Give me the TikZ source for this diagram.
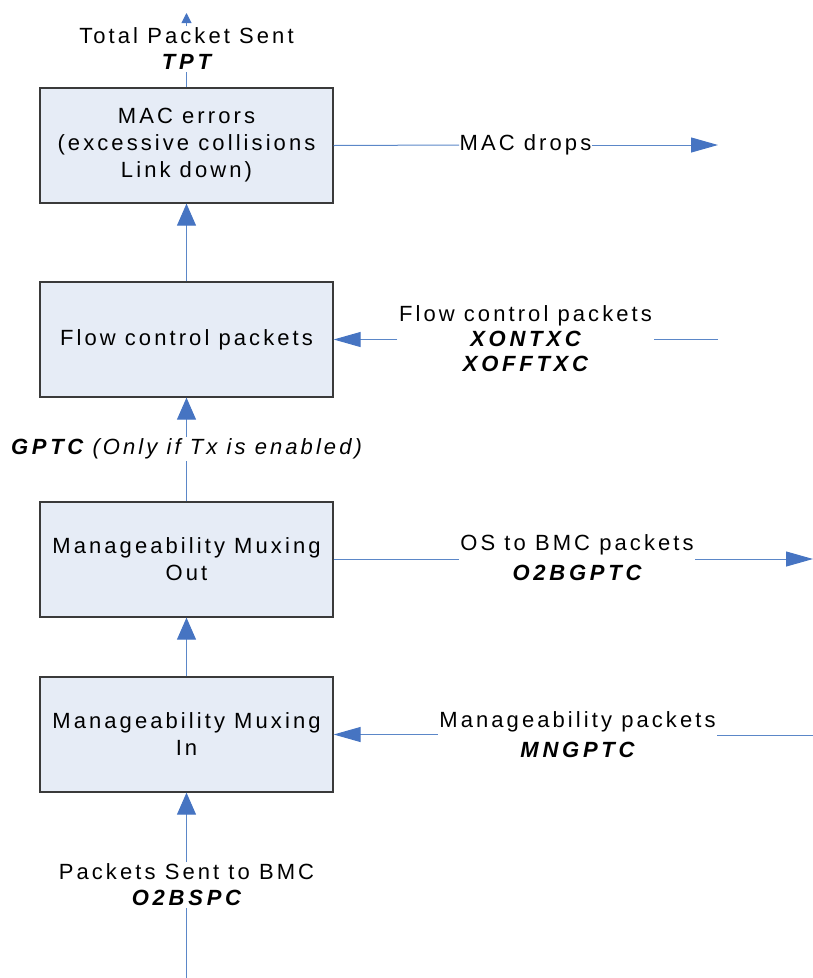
\documentclass[tikz,border=0pt]{standalone}
\usepackage{fontspec}
\setmainfont{Liberation Sans}[LetterSpace=14, BoldItalicFeatures={LetterSpace=17}]
\usetikzlibrary{arrows.meta}
\definecolor{lineblue}{HTML}{5B87C8}
\definecolor{headblue}{HTML}{4674C2}
\definecolor{boxfill}{HTML}{E6ECF6}
\definecolor{boxdraw}{HTML}{3A3A3A}
\tikzset{
  box/.style={draw=boxdraw, line width=1.3pt, fill=boxfill, minimum width=293pt,
    minimum height=115pt, align=center, inner sep=0pt, font=\fontsize{22}{27}\selectfont},
  lbl/.style={align=center, inner sep=1.5pt, font=\fontsize{22}{26}\selectfont},
  conn/.style={draw=lineblue, line width=1pt},
  harrow/.style={conn, -{Triangle[length=27pt,width=15pt,color=headblue]}},
  varrow/.style={conn, -{Triangle[length=22pt,width=19pt,color=headblue]}},
  tarrow/.style={conn, -{Triangle[length=10pt,width=10pt,color=headblue]}},
  code/.style={font=\bfseries\itshape}
}
\begin{document}
\begin{tikzpicture}[x=1pt,y=-1pt]
\useasboundingbox (0,0) rectangle (813,978);
% boxes
\node[box] (mac) at (186.5,145.5) {MAC errors\\(excessive collisions\\Link down)};
\node[box] (flow) at (186.5,339.5) {Flow control packets};
\node[box] (mout) at (186.5,559.5) {Manageability Muxing\\Out};
\node[box] (min) at (186.5,734.5) {Manageability Muxing\\In};
% labels
\node[lbl] (tpt) at (186.5,49) {Total Packet Sent\\{\bfseries\itshape TPT}};
\node[lbl, inner sep=0.5pt] (drops) at (525.5,145) {MAC drops};
\node[lbl, font=\fontsize{22}{25}\selectfont] (fcl) at (525.5,339) {Flow control packets\\{\bfseries\itshape XONTXC}\\{\bfseries\itshape XOFFTXC}};
\node[lbl] (gptc) at (186.5,449) {{\bfseries\itshape GPTC} {\itshape (Only if Tx is enabled)}};
\node[lbl, font=\fontsize{22}{30}\selectfont] (o2b) at (577,558) {OS to BMC packets\\{\bfseries\itshape O2BGPTC}};
\node[lbl, font=\fontsize{22}{30}\selectfont] (mng) at (577.5,735) {Manageability packets\\{\bfseries\itshape MNGPTC}};
\node[lbl] (pst) at (186.5,885) {Packets Sent to BMC\\{\bfseries\itshape O2BSPC}};
% free ends
\coordinate (topend) at (186.5,13);
\coordinate (dropend) at (718,145);
\coordinate (fcend) at (718,339);
\coordinate (o2bend) at (813,559);
\coordinate (mngend) at (813,735);
\coordinate (botend) at (186.5,978);
% connectors
\draw[conn] (mac.north) -- (tpt.south);
\draw[tarrow] (tpt.north) -- (topend);
\draw[varrow] (flow.north) -- (mac.south);
\draw[conn] (mout.north) -- (gptc.south);
\draw[varrow] (gptc.north) -- (flow.south);
\draw[varrow] (min.north) -- (mout.south);
\draw[conn] (botend) -- (pst.south);
\draw[varrow] (pst.north) -- (min.south);
\draw[conn] (mac.east) -- (drops.west);
\draw[harrow] (drops.east) -- (dropend);
\draw[conn] (fcend) -- (fcl.east |- fcend);
\draw[harrow] (fcl.west |- flow.east) -- (flow.east);
\draw[conn] (mout.east) -- (o2b.west |- mout.east);
\draw[harrow] (o2b.east |- o2bend) -- (o2bend);
\draw[conn] (mngend) -- (mng.east |- mngend);
\draw[harrow] (mng.west |- min.east) -- (min.east);
\end{tikzpicture}
\end{document}
